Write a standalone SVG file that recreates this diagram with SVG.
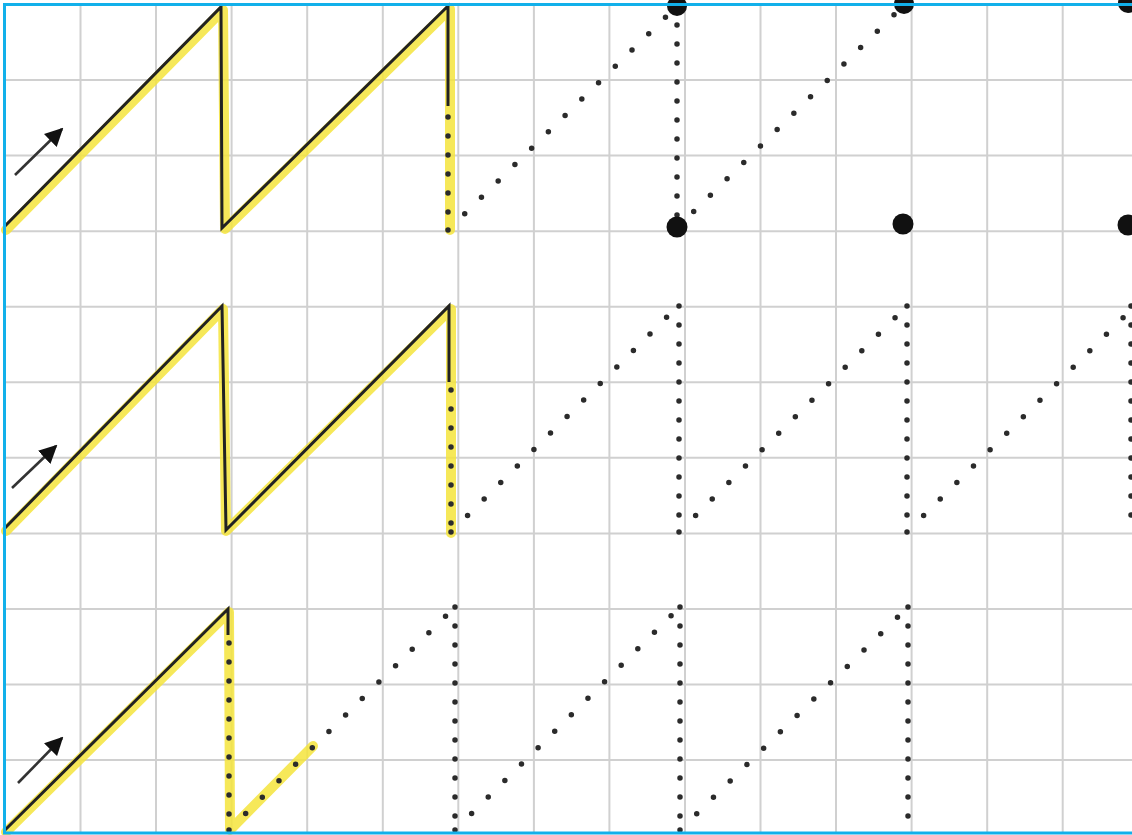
<svg xmlns="http://www.w3.org/2000/svg" width="1132" height="835" viewBox="0 0 1132 835">
<style>
.grid line{stroke:#d0d0d0;stroke-width:2}
.hl{fill:none;stroke:#f5e43c;stroke-opacity:0.85;stroke-width:10;stroke-linejoin:round;stroke-linecap:round}
.solid{fill:none;stroke:#222;stroke-width:3;stroke-linejoin:miter}
.dv{fill:none;stroke:#2b2b2b;stroke-width:5.5;stroke-linecap:round;stroke-dasharray:0 19}
.dd{fill:none;stroke:#2b2b2b;stroke-width:5.5;stroke-linecap:round;stroke-dasharray:0 23.4}
.big{fill:#111}
.arr{stroke:#333;stroke-width:2.6;marker-end:url(#ah)}
</style>
<defs>
<marker id="ah" viewBox="0 0 10 10" refX="9" refY="5" markerWidth="7" markerHeight="7" orient="auto" markerUnits="strokeWidth">
<path d="M0,0 L10,5 L0,10 Z" fill="#111"/>
</marker>
</defs>
<rect width="1132" height="835" fill="#fff"/>
<g id="grid" class="grid">
<line x1="80.5" y1="4" x2="80.5" y2="833"/>
<line x1="156" y1="4" x2="156" y2="833"/>
<line x1="231.6" y1="4" x2="231.6" y2="833"/>
<line x1="307.2" y1="4" x2="307.2" y2="833"/>
<line x1="382.8" y1="4" x2="382.8" y2="833"/>
<line x1="458.3" y1="4" x2="458.3" y2="833"/>
<line x1="533.9" y1="4" x2="533.9" y2="833"/>
<line x1="609.4" y1="4" x2="609.4" y2="833"/>
<line x1="685" y1="4" x2="685" y2="833"/>
<line x1="760.5" y1="4" x2="760.5" y2="833"/>
<line x1="836" y1="4" x2="836" y2="833"/>
<line x1="911.6" y1="4" x2="911.6" y2="833"/>
<line x1="987.2" y1="4" x2="987.2" y2="833"/>
<line x1="1062.7" y1="4" x2="1062.7" y2="833"/>
<line x1="5" y1="80" x2="1132" y2="80"/>
<line x1="5" y1="155.6" x2="1132" y2="155.6"/>
<line x1="5" y1="231.2" x2="1132" y2="231.2"/>
<line x1="5" y1="306.7" x2="1132" y2="306.7"/>
<line x1="5" y1="382.3" x2="1132" y2="382.3"/>
<line x1="5" y1="457.8" x2="1132" y2="457.8"/>
<line x1="5" y1="533.4" x2="1132" y2="533.4"/>
<line x1="5" y1="608.9" x2="1132" y2="608.9"/>
<line x1="5" y1="684.5" x2="1132" y2="684.5"/>
<line x1="5" y1="760" x2="1132" y2="760"/>
</g>
<g id="row1">
<path class="hl" d="M6,230 L223,10 L225,229 L450,9 L450,230"/>
<path class="solid" d="M5,226 L221,7 L222,228 L448,6 L448,106"/>
<path class="dv" d="M448,117 L448,230"/>
<path class="dd" d="M448,230 L677,6"/>
<path class="dv" d="M677,6 L677,228"/>
<path class="dd" d="M677,228 L904,5"/>
<circle class="big" cx="677" cy="6" r="10"/>
<circle class="big" cx="677" cy="227" r="10.5"/>
<circle class="big" cx="904" cy="4" r="10"/>
<circle class="big" cx="903" cy="224" r="10.5"/>
<circle class="big" cx="1128" cy="3" r="10"/>
<circle class="big" cx="1128" cy="225" r="10.5"/>
<line class="arr" x1="15" y1="175" x2="62" y2="129"/>
</g>
<g id="row2">
<path class="hl" d="M6,531 L223,309 L226,531 L451,309 L451,533"/>
<path class="solid" d="M5,528 L222,306 L226,530 L449,306 L449,382"/>
<path class="dv" d="M451,390 L451,532"/>
<path class="dd" d="M451,532 L678,306"/>
<path class="dv" d="M679,306 L679,532"/>
<path class="dd" d="M679,532 L907,306"/>
<path class="dv" d="M907,306 L907,530"/>
<path class="dd" d="M907,532 L1131,310"/>
<path class="dv" d="M1131,306 L1131,532"/>
<line class="arr" x1="12" y1="488" x2="56" y2="446"/>
</g>
<g id="row3">
<path class="hl" d="M6,832 L229,612 L230,830 L313,746"/>
<path class="solid" d="M5,830 L228,609 L228,635"/>
<path class="dv" d="M229,643 L229,830"/>
<path class="dd" d="M229,830 L455,607"/>
<path class="dv" d="M455,607 L455,830"/>
<path class="dd" d="M455,830 L680,607"/>
<path class="dv" d="M680,607 L680,830"/>
<path class="dd" d="M680,830 L908,607"/>
<path class="dv" d="M908,607 L908,822"/>
<line class="arr" x1="18" y1="783" x2="62" y2="738"/>
</g>
<rect id="frame" x="4.5" y="4.5" width="1131" height="828.5" fill="none" stroke="#12b0ea" stroke-width="3"/>
</svg>
